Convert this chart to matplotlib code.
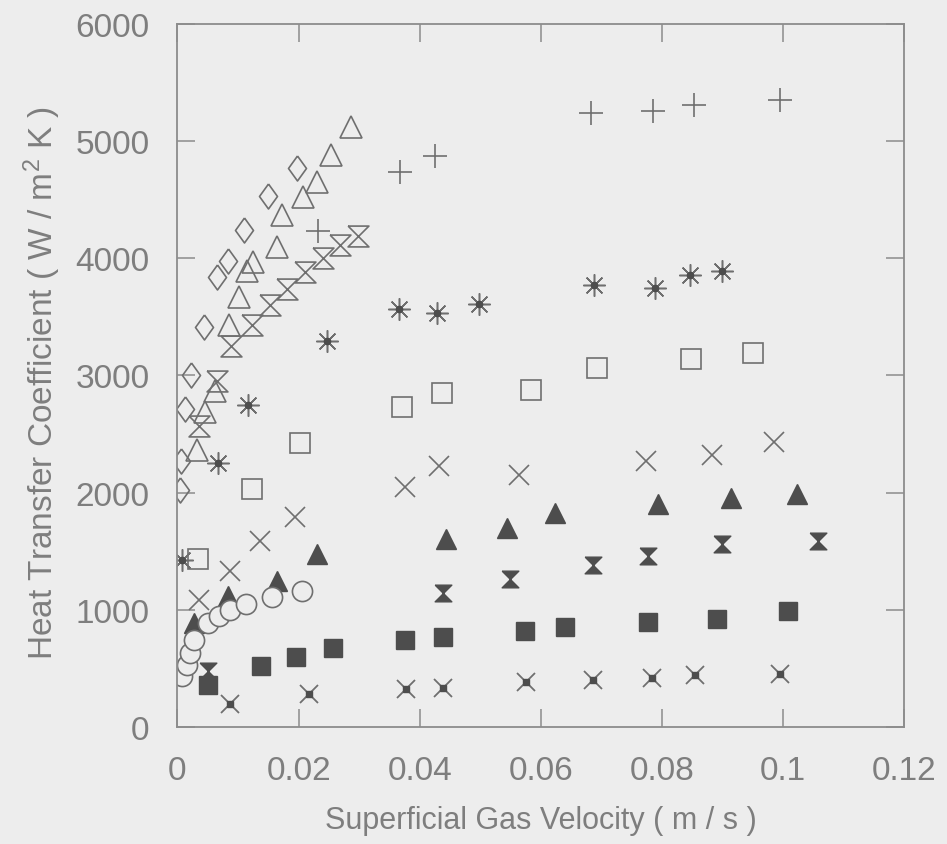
import numpy as np
import matplotlib
matplotlib.use("Agg")
import matplotlib.pyplot as plt

# values (velocity in m/s, h in W/m2K)
diamond_x = [0.0005, 0.0006, 0.0012, 0.0022, 0.0043, 0.0066, 0.0084, 0.0110, 0.0150, 0.0197]
diamond_y = [2020, 2270, 2710, 3000, 3410, 3840, 3980, 4240, 4530, 4770]

tri_open_x = [0.0032, 0.0045, 0.0062, 0.0085, 0.0102, 0.0114, 0.0125, 0.0164, 0.0173, 0.0208, 0.0231, 0.0253, 0.0287]
tri_open_y = [2360, 2690, 2870, 3430, 3670, 3890, 3970, 4100, 4370, 4520, 4650, 4880, 5120]

hour_open_x = [0.0035, 0.0065, 0.0089, 0.0123, 0.0153, 0.0180, 0.0210, 0.0240, 0.0268, 0.0298]
hour_open_y = [2570, 2950, 3250, 3430, 3600, 3740, 3880, 4000, 4110, 4190]

plus_x = [0.0232, 0.0367, 0.0425, 0.0683, 0.0785, 0.0853, 0.0995]
plus_y = [4230, 4740, 4870, 5240, 5260, 5310, 5350]

star_x = [0.0007, 0.0067, 0.0117, 0.0247, 0.0365, 0.0428, 0.0498, 0.0688, 0.0788, 0.0846, 0.0898]
star_y = [1425, 2250, 2750, 3290, 3570, 3530, 3610, 3770, 3750, 3860, 3890]

sq_open_x = [0.0034, 0.0123, 0.0202, 0.0371, 0.0437, 0.0583, 0.0692, 0.0848, 0.0950]
sq_open_y = [1430, 2030, 2420, 2730, 2850, 2880, 3060, 3140, 3190]

cross_x = [0.0036, 0.0086, 0.0136, 0.0194, 0.0375, 0.0431, 0.0563, 0.0774, 0.0882, 0.0984]
cross_y = [1080, 1330, 1590, 1790, 2050, 2230, 2150, 2270, 2320, 2430]

tri_fill_x = [0.0027, 0.0083, 0.0164, 0.0231, 0.0444, 0.0544, 0.0623, 0.0793, 0.0914, 0.1023]
tri_fill_y = [890, 1120, 1250, 1480, 1600, 1700, 1830, 1900, 1950, 1990]

hour_fill_x = [0.0050, 0.0439, 0.0549, 0.0686, 0.0777, 0.0899, 0.1058]
hour_fill_y = [480, 1140, 1260, 1380, 1460, 1560, 1590]

circle_x = [0.0008, 0.0015, 0.0020, 0.0028, 0.0050, 0.0068, 0.0087, 0.0113, 0.0156, 0.0206]
circle_y = [435, 530, 630, 740, 890, 945, 1000, 1050, 1110, 1160]

sq_fill_x = [0.0050, 0.0138, 0.0196, 0.0257, 0.0376, 0.0439, 0.0574, 0.0640, 0.0776, 0.0890, 0.1007]
sq_fill_y = [360, 520, 600, 670, 740, 770, 820, 850, 900, 920, 990]

xdot_x = [0.0086, 0.0217, 0.0377, 0.0438, 0.0575, 0.0686, 0.0783, 0.0854, 0.0995]
xdot_y = [200, 280, 320, 330, 380, 400, 420, 440, 450]

x_ticks = [0, 0.02, 0.04, 0.06, 0.08, 0.1, 0.12]
x_ticklabels = ["0", "0.02", "0.04", "0.06", "0.08", "0.1", "0.12"]
y_ticks = [0, 1000, 2000, 3000, 4000, 5000, 6000]

bg = "#ededed"
ink = "#6f6f6f"
dark = "#4d4d4d"
txt = "#7e7e7e"

plt.rcParams["font.family"] = ["Liberation Sans", "DejaVu Sans"]
plt.rcParams["mathtext.default"] = "regular"

hourglass = [(-1, 1), (1, 1), (-1, -1), (1, -1), (-1, 1)]
diamond = [(0, 1), (0.72, 0), (0, -1), (-0.72, 0), (0, 1)]

fig = plt.figure(figsize=(9.47, 8.45), dpi=100, facecolor=bg)
ax = fig.add_axes([0.1874, 0.1385, 0.7677, 0.832], facecolor=bg)

ax.plot(diamond_x, diamond_y, ls="none", marker=diamond, ms=18, mfc="none", mec=ink, mew=1.2)
ax.plot(tri_open_x, tri_open_y, ls="none", marker="^", ms=16, mfc="none", mec=ink, mew=1.2)
ax.plot(hour_open_x, hour_open_y, ls="none", marker=hourglass, ms=15, mfc="none", mec=ink, mew=1.2)
ax.plot(plus_x, plus_y, ls="none", marker="+", ms=17, mec=ink, mew=1.2)
ax.plot(star_x, star_y, ls="none", marker=(8, 2, 0), ms=16, mec=ink, mew=1.1)
ax.plot(star_x, star_y, ls="none", marker="o", ms=4.5, mfc=dark, mec=dark)
ax.plot(sq_open_x, sq_open_y, ls="none", marker="s", ms=14, mfc="none", mec=ink, mew=1.2)
ax.plot(cross_x, cross_y, ls="none", marker="x", ms=15, mec=ink, mew=1.2)
ax.plot(tri_fill_x, tri_fill_y, ls="none", marker="^", ms=14, mfc=dark, mec=dark, mew=1)
ax.plot(hour_fill_x, hour_fill_y, ls="none", marker=hourglass, ms=12, mfc=dark, mec=dark, mew=1)
ax.plot(circle_x, circle_y, ls="none", marker="o", ms=14.5, mfc=bg, mec=ink, mew=1.2)
ax.plot(sq_fill_x, sq_fill_y, ls="none", marker="s", ms=13, mfc=dark, mec=dark, mew=1)
ax.plot(xdot_x, xdot_y, ls="none", marker="x", ms=13, mec=ink, mew=1.3)
ax.plot(xdot_x, xdot_y, ls="none", marker="s", ms=5, mfc=dark, mec=dark)

ax.set_xlim(0, 0.12)
ax.set_ylim(0, 6000)
ax.set_xticks(x_ticks)
ax.set_xticklabels(x_ticklabels)
ax.set_yticks(y_ticks)

for s in ax.spines.values():
    s.set_color("#8c8c8c")
    s.set_linewidth(1.3)

ax.tick_params(direction="in", length=13, width=1.1, color="#8c8c8c",
               top=True, right=True, labelsize=24, labelcolor=txt, pad=20)

ax.set_xlabel("Superficial Gas Velocity ( m / s )", fontsize=22, color=txt, labelpad=14)
ax.set_ylabel("Heat Transfer Coefficient ( W / m$^2$ K )", fontsize=24, color=txt, labelpad=8)
ax.yaxis.set_label_coords(-0.158, 0.49)

fig.savefig("out.png", dpi=100, facecolor=bg)
